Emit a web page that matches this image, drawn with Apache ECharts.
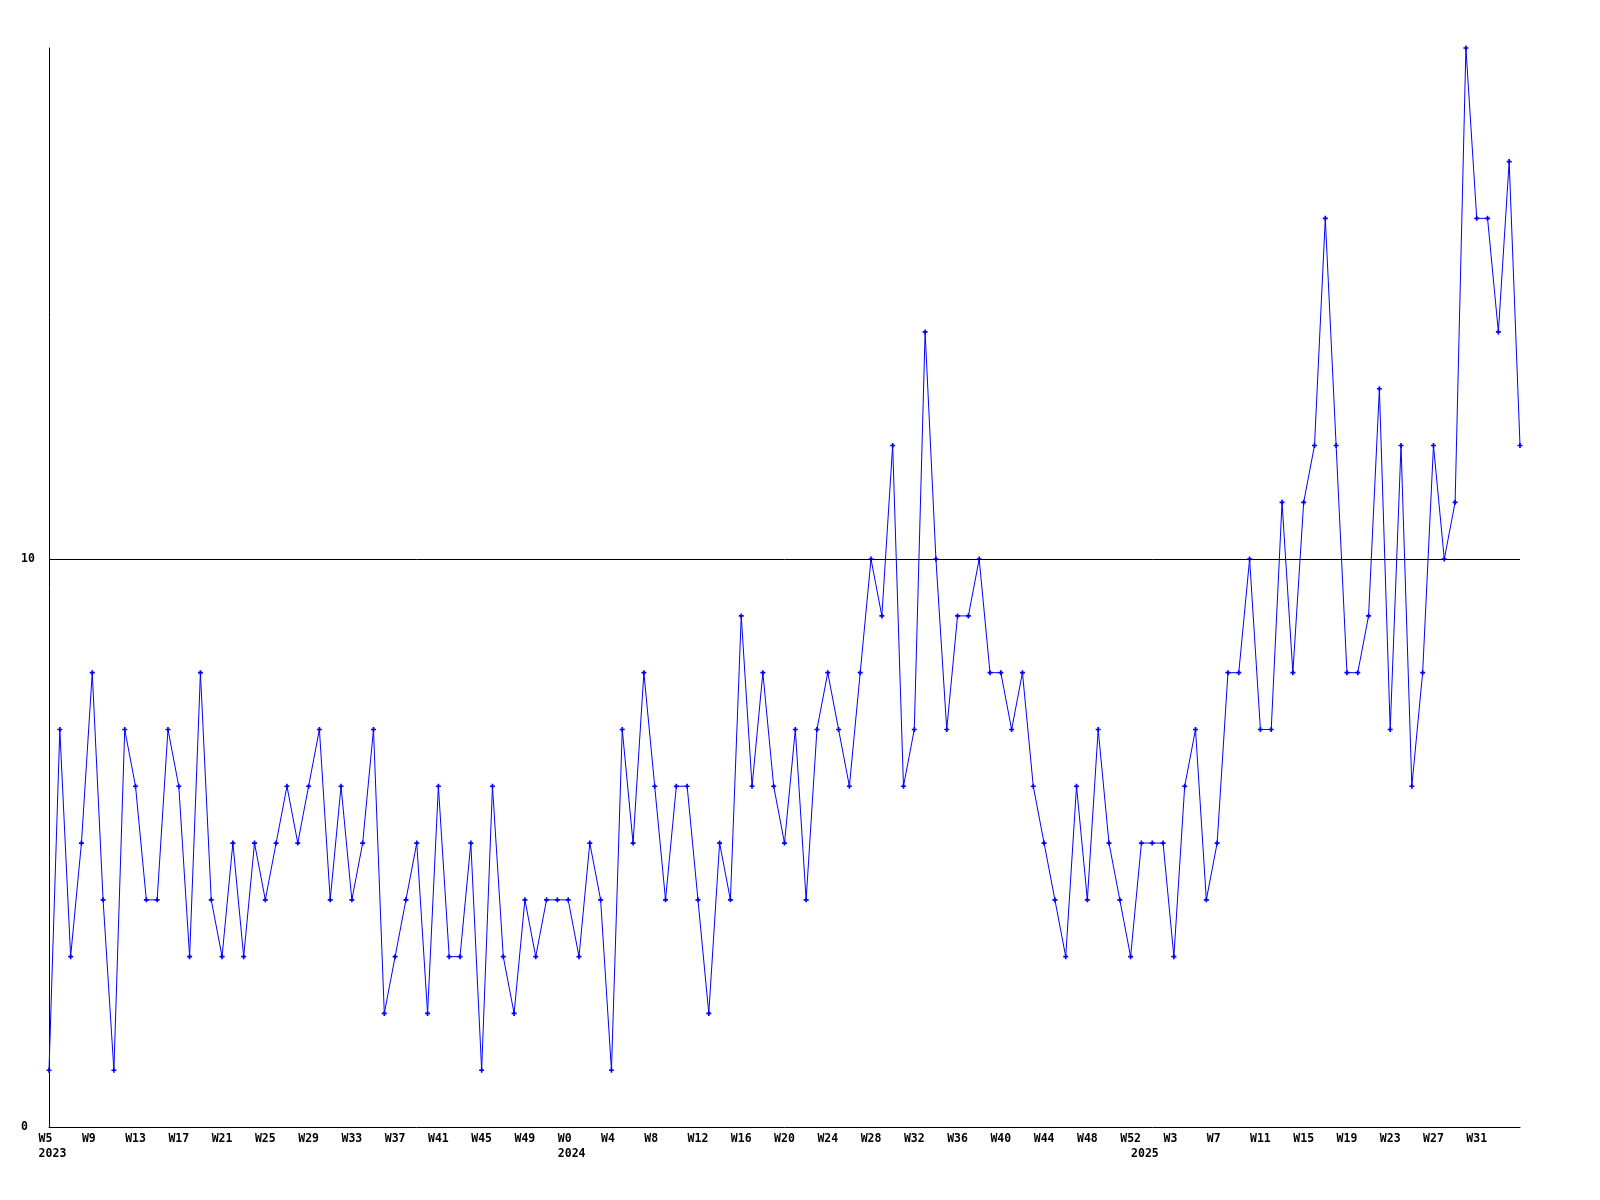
<!DOCTYPE html>
<html>
<head>
<meta charset="utf-8">
<script src="https://cdn.jsdelivr.net/npm/echarts@6/dist/echarts.min.js"></script>
<style>
html,body{margin:0;padding:0;background:#fff;}
#chart{width:1600px;height:1200px;}
</style>
</head>
<body>
<div id="chart"></div>
<script>
// Week ranges per year (first and last week number shown)
const yearSpans = [
  { year: 2023, first: 5, last: 52 },
  { year: 2024, first: 0, last: 52 },
  { year: 2025, first: 0, last: 35 }
];

// Weekly counts
const values2023 = [1,7,3,5,8,4,1,7,6,4, 4,7,6,3,8,4,3,5,3,5, 4,5,6,5,6,7,4,6,4,5, 7,2,3,4,5,2,6,3,3,5, 1,6,3,2,4,3,4,4];
const values2024 = [4,3,5,4,1,7,5,8,6,4, 6,6,4,2,5,4,9,6,8,6, 5,7,4,7,8,7,6,8,10,9, 12,6,7,14,10,7,9,9,10,8, 8,7,8,6,5,4,3,6,4,7, 5,4,3];
const values2025 = [5,5,5,3,6,7,4,5,8,8, 10,7,7,11,8,11,12,16,12,8, 8,9,13,7,12,6,8,12,10,11, 19,16,16,14,17,12];

const referenceLine = 10;
const yTicks = { min: 0, max: 19, interval: 10 };

const categories = [];
const yearStartIdx = new Set();
yearSpans.forEach(s => {
  yearStartIdx.add(categories.length);
  for (let w = s.first; w <= s.last; w++) categories.push(s.year + '|W' + w);
});
const values = values2023.concat(values2024, values2025);

const FONT = 'DejaVu Sans Mono';
const chart = echarts.init(document.getElementById('chart'), null, { renderer: 'canvas' });
chart.setOption({
  animation: false,
  backgroundColor: '#ffffff',
  grid: { left: 49, right: 80, top: 48, bottom: 73, containLabel: false },
  xAxis: [
    {
      type: 'category',
      data: categories,
      boundaryGap: false,
      axisLine: { show: true, lineStyle: { color: '#000', width: 1 } },
      axisTick: { show: false },
      splitLine: { show: false },
      axisLabel: {
        interval: 3,
        showMaxLabel: false,
        margin: 6,
        color: '#000',
        fontFamily: FONT,
        fontWeight: 'bold',
        fontSize: 11.5,
        formatter: v => { const w = v.split('|')[1]; return w.length < 3 ? w + ' ' : w; }
      }
    },
    {
      type: 'category',
      data: categories,
      boundaryGap: false,
      position: 'bottom',
      axisLine: { show: false },
      axisTick: { show: false },
      splitLine: { show: false },
      axisLabel: {
        interval: (i) => yearStartIdx.has(i),
        margin: 21,
        color: '#000',
        fontFamily: FONT,
        fontWeight: 'bold',
        fontSize: 11.5,
        formatter: v => ' ' + v.split('|')[0]
      }
    }
  ],
  yAxis: {
    type: 'value',
    min: yTicks.min,
    max: yTicks.max,
    interval: yTicks.interval,
    axisLine: { show: true, lineStyle: { color: '#000', width: 1 } },
    axisTick: { show: false },
    splitLine: { show: false },
    axisLabel: {
      showMaxLabel: false,
      align: 'left',
      margin: 28,
      color: '#000',
      fontFamily: FONT,
      fontWeight: 'bold',
      fontSize: 11.5
    }
  },
  series: [{
    type: 'line',
    xAxisIndex: 0,
    data: values,
    symbol: 'path://M1,0h1v1h1v1h-1v1h-1v-1h-1v-1h1z',
    symbolSize: 5,
    showAllSymbol: true,
    lineStyle: { color: '#0000ff', width: 1 },
    itemStyle: { color: '#0000ff' },
    markLine: {
      silent: true,
      symbol: 'none',
      label: { show: false },
      lineStyle: { color: '#000', width: 1, type: 'solid' },
      data: [{ yAxis: referenceLine }]
    },
    z: 3
  }]
});
</script>
</body>
</html>
